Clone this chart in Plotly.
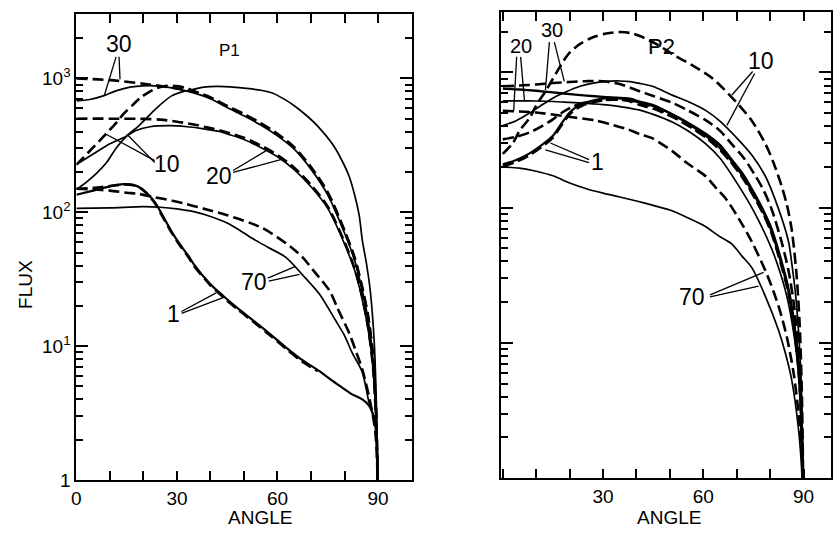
import plotly.graph_objects as go

# ---------------- data (angle in degrees, flux) ----------------
# Panel P1
p1_d30_x = [0, 10, 20, 30, 35, 40, 45, 50, 55, 60, 65, 70, 75, 80, 83, 85, 87, 88.5, 89.5, 90]
p1_d30_y = [1000, 970, 912, 841, 794, 716, 617, 537, 457, 380, 302, 214, 138, 72, 45, 29, 16.6, 8.3, 2.8, 0.5]

p1_s30_x = [0, 4, 8, 12, 16, 20, 25, 30, 35, 40, 45, 50, 55, 60, 65, 70, 75, 80, 83, 85, 87, 88.5, 89.5, 90]
p1_s30_y = [680, 695, 740, 810, 860, 880, 875, 835, 780, 705, 605, 525, 448, 372, 296, 210, 135, 70, 44, 28, 16, 8, 2.7, 0.5]

p1_d10_x = [0, 2, 5, 8.7, 12, 14, 17, 19, 22, 24, 27, 30, 33, 35, 40, 45, 50, 55, 60, 65, 70, 75, 80, 83, 85, 87, 88.5, 89.5, 90]
p1_d10_y = [227, 255, 305, 382, 470, 540, 640, 713, 800, 845, 880, 875, 845, 805, 722, 622, 542, 463, 386, 306, 218, 141, 73, 46, 29.5, 17, 8.5, 2.9, 0.5]

p1_s10_x = [0, 3, 6, 9, 12, 15, 19, 24, 28.4, 32, 35, 38, 42, 46, 50, 55, 58.6, 62, 65, 68.4, 72, 76.4, 79, 81.4, 83, 84.4, 85.3, 86.5, 87.6, 88.5, 89.1, 89.6, 90]
p1_s10_y = [148, 168, 195, 235, 305, 370, 452, 603, 740, 800, 830, 860, 872, 865, 845, 815, 775, 700, 625, 535, 440, 323, 250, 185, 135, 94, 62, 42, 27, 15, 8, 3, 0.5]

p1_d20_x = [0, 10, 20, 25, 30, 35, 40, 45, 50, 55, 60, 65, 70, 75, 80, 83, 85, 87, 88.5, 89.5, 90]
p1_d20_y = [500, 500, 498, 492, 475, 452, 425, 395, 360, 315, 268, 215, 160, 110, 60, 38, 25, 14, 7, 2.4, 0.5]

p1_s20_x = [0, 5, 10, 14, 18, 22, 28, 33, 38, 43, 45, 50, 55, 60, 65, 70, 75, 80, 83, 85, 87, 88.5, 89.5, 90]
p1_s20_y = [227, 272, 325, 360, 410, 435, 443, 435, 420, 400, 385, 350, 305, 260, 208, 155, 107, 58, 37, 24, 13.5, 6.8, 2.3, 0.5]

p1_s1_x = [0, 5, 10, 14, 17, 19.5, 21.5, 23.5, 26, 28.5, 31, 33.5, 35, 40, 44, 48, 52.7, 57, 62.5, 67, 72.5, 76, 79.3, 82, 85.3, 87.3, 88.5, 89.4, 89.8, 90]
p1_s1_y = [135, 145, 156, 162, 160, 150, 135, 118, 92, 71, 57, 47, 41, 29, 23.5, 19.3, 15.6, 12.8, 9.8, 8.0, 6.5, 5.6, 4.9, 4.4, 4.0, 3.6, 3.1, 2.3, 1.5, 0.5]

p1_d1_x = [0, 5, 10, 14, 17, 19.5, 21.5, 23.5, 26, 28.5, 31, 33.5, 35, 40, 44, 48, 52.7, 57, 62.5, 67, 72]
p1_d1_y = [150, 152, 157, 161, 159, 149, 134, 116, 90, 70, 56, 46, 40, 28.5, 23, 18.9, 15.3, 12.5, 9.6, 7.8, 6.5]

p1_s70_x = [0, 10, 20, 25, 30, 35, 40, 45, 50, 52.4, 57, 62.5, 67.5, 72.5, 77.3, 80, 82.3, 85.3, 87.3, 89.1, 89.7, 90]
p1_s70_y = [107, 108, 110, 109, 106, 101, 93, 83, 70, 64, 55, 46, 34, 24.5, 15.6, 12, 8.9, 6.4, 3.8, 2.7, 1.8, 0.5]

p1_d70_x = [0, 5, 10, 15, 18.7, 23, 28.6, 33, 38.2, 45, 52, 55.6, 60, 64, 67.5, 71, 75.5, 78, 81.4, 83.5, 85.3, 87.5, 89, 89.7, 90]
p1_d70_y = [150, 148, 145, 140, 137, 130, 122, 115, 106, 95, 83, 76, 65, 55, 46, 36, 26, 19, 12.5, 9, 6.7, 4, 2.5, 1.5, 0.5]

# Panel P2
p2_d10_x = [0, 3, 5, 8, 10, 13, 15, 18, 20, 23, 27, 31, 35, 38, 41, 46, 52, 57, 62.6, 66, 70.6, 74.5, 78.6, 81, 83.4, 85, 86.4, 87.8, 88.8, 89.5, 90]
p2_d10_y = [250, 300, 370, 460, 570, 740, 900, 1200, 1400, 1620, 1820, 1940, 1990, 1960, 1860, 1620, 1310, 1120, 910, 760, 575, 440, 295, 215, 145, 105, 70, 34, 14, 4, 0.5]

p2_s10_x = [0, 4, 7.4, 11, 15.1, 19, 23.1, 27, 31, 35, 38, 41, 44.8, 50.7, 54.9, 60.8, 64.7, 70.6, 74.5, 78.6, 82.5, 85.5, 86.5, 87.5, 88.5, 89.3, 90]
p2_s10_y = [405, 440, 490, 560, 648, 720, 790, 835, 860, 865, 855, 830, 790, 680, 617, 522, 442, 316, 245, 170, 98, 56, 38, 24, 12, 5, 0.5]

p2_d30_x = [0, 5, 10, 15, 20, 25, 30, 35, 41, 45, 50.7, 55, 60.8, 65, 68.5, 72, 75.7, 78, 80.4, 83.4, 85.5, 87, 88.3, 89.2, 90]
p2_d30_y = [790, 800, 815, 835, 850, 862, 860, 820, 725, 670, 596, 530, 442, 370, 295, 235, 170, 135, 98, 56, 34, 20, 10, 4, 0.5]

p2_s30_x = [0, 5, 10, 15, 20, 25, 30, 35, 41, 45, 50.7, 55, 60.8, 65, 68.5, 72, 75.7, 78, 80.4, 83.4, 85.5, 87, 88.3, 89.2, 90]
p2_s30_y = [760, 748, 732, 712, 692, 674, 660, 643, 600, 565, 490, 430, 350, 290, 226, 175, 122, 95, 70, 40, 25, 15, 8, 3.5, 0.5]

p2_s20_x = [0, 5, 10, 15, 20, 25, 31, 36, 41, 45, 50.7, 55, 60.8, 65, 70.6, 75, 80.4, 83, 85, 87, 88.3, 89.2, 90]
p2_s20_y = [617, 617, 615, 610, 600, 590, 575, 555, 527, 490, 430, 375, 295, 232, 145, 95, 50, 33, 22, 12, 6.5, 3, 0.5]

p2_d20_x = [0, 4, 8, 12, 15, 18, 21, 24, 28, 33, 37, 41, 45, 50.7, 55, 60.8, 65, 68.5, 72, 75.7, 78, 80.4, 83.4, 85.5, 87, 88.3, 89.2, 90]
p2_d20_y = [320, 335, 360, 405, 450, 510, 560, 595, 620, 630, 620, 575, 540, 470, 410, 335, 275, 215, 165, 115, 90, 66, 38, 24, 14, 7.5, 3.3, 0.5]

p2_s1_x = [0, 4, 8, 12, 15, 17, 18.7, 20, 21.7, 24, 27.6, 31, 35, 38, 41, 45, 50.7, 55, 60.8, 65, 68.5, 72, 75.7, 78, 80.4, 83.4, 85.5, 87, 88.3, 89.2, 90]
p2_s1_y = [209, 225, 252, 295, 340, 400, 460, 505, 550, 590, 625, 645, 650, 640, 610, 575, 490, 425, 340, 275, 220, 168, 118, 92, 67, 38, 24, 14, 7.5, 3.3, 0.5]
p2_d1_y = [v * 0.97 for v in p2_s1_y]

p2_d70_x = [0, 5, 10, 17.8, 22, 27.6, 32, 37.4, 41, 44.5, 50.7, 55, 60.8, 64, 66.8, 70.6, 74.5, 78.6, 81, 83, 85, 87, 88.5, 89.5, 90]
p2_d70_y = [520, 515, 505, 478, 462, 442, 415, 380, 350, 328, 262, 215, 170, 138, 116, 83, 56, 34, 24, 17, 11, 6, 3, 1.5, 0.5]

p2_s70_x = [0, 5, 10, 15, 20, 25, 30, 35, 40, 45, 50, 55, 60, 65, 68.5, 71.5, 74.5, 78.6, 82.5, 84.5, 86.4, 88.4, 89.3, 90]
p2_s70_y = [200, 196, 186, 172, 152, 138, 128, 120, 112, 104, 96, 85, 74, 61, 54, 44, 36, 22, 12.4, 8.5, 5.4, 2.4, 1.3, 0.5]

# tick positions / labels
x_major_p1 = [0, 30, 60, 90]
x_text_p1 = ["0", "30", "60", "90"]
x_major_p2 = [30, 60, 90]
x_text_p2 = ["30", "60", "90"]
x_minor = [0, 10, 20, 40, 50, 70, 80, 100]
y_major = [1, 10, 100, 1000]
y_text = ["1", "10<sup>1</sup>", "10<sup>2</sup>", "10<sup>3</sup>"]
y_minor = [m * d for d in (1, 10, 100, 1000) for m in range(2, 10) if m * d < 3100]

# ---------------- figure ----------------
W, H = 833, 540
FONT = "Liberation Sans, Arial, sans-serif"
SOLID = dict(color="black", width=1.7)
DASH = dict(color="black", width=2.6, dash="11px,5px")

fig = go.Figure()

def add(x, y, style, axis):
    fig.add_trace(go.Scatter(
        x=x, y=y, mode="lines", line=dict(**style, shape="spline", smoothing=0.8),
        xaxis="x" if axis == 1 else "x2", yaxis="y" if axis == 1 else "y2",
        showlegend=False, hoverinfo="skip"))

add(p1_d30_x, p1_d30_y, DASH, 1)
add(p1_s30_x, p1_s30_y, SOLID, 1)
add(p1_d10_x, p1_d10_y, DASH, 1)
add(p1_s10_x, p1_s10_y, SOLID, 1)
add(p1_d20_x, p1_d20_y, DASH, 1)
add(p1_s20_x, p1_s20_y, SOLID, 1)
add(p1_s1_x, p1_s1_y, dict(color="black", width=2.2), 1)
add(p1_d1_x, p1_d1_y, DASH, 1)
add(p1_s70_x, p1_s70_y, SOLID, 1)
add(p1_d70_x, p1_d70_y, DASH, 1)

add(p2_d10_x, p2_d10_y, DASH, 2)
add(p2_s10_x, p2_s10_y, SOLID, 2)
add(p2_d30_x, p2_d30_y, DASH, 2)
add(p2_s30_x, p2_s30_y, dict(color="black", width=2.4), 2)
add(p2_s20_x, p2_s20_y, SOLID, 2)
add(p2_d20_x, p2_d20_y, DASH, 2)
add(p2_s1_x, p2_s1_y, dict(color="black", width=2.2), 2)
add(p2_s1_x, p2_d1_y, DASH, 2)
add(p2_d70_x, p2_d70_y, DASH, 2)
add(p2_s70_x, p2_s70_y, SOLID, 2)

def px(x):
    return x / W

def py(y):
    return 1 - y / H

axis_common = dict(showline=True, linecolor="black", linewidth=2, mirror="allticks",
                   ticks="inside", tickcolor="black", tickwidth=1.5, showgrid=False,
                   zeroline=False, tickfont=dict(family=FONT, size=19, color="black"))
x_minor_cfg = dict(tickmode="array", tickvals=x_minor, ticks="inside", ticklen=9,
                   tickwidth=1.5, tickcolor="black", showgrid=False)
y_minor_cfg = dict(tickmode="array", tickvals=y_minor, ticks="inside", ticklen=7,
                   tickwidth=1.5, tickcolor="black", showgrid=False)

fig.update_layout(
    width=W, height=H, margin=dict(l=0, r=0, t=0, b=0),
    paper_bgcolor="white", plot_bgcolor="white",
    xaxis=dict(**axis_common, domain=[px(72), px(410)], range=[0, 100], anchor="y",
               tickmode="array", tickvals=x_major_p1, ticktext=x_text_p1, ticklen=9,
               minor=x_minor_cfg),
    yaxis=dict(**axis_common, domain=[py(490), py(14)], type="log", range=[0, 3.483], anchor="x",
               tickmode="array", tickvals=y_major, ticktext=y_text, ticklen=12,
               minor=y_minor_cfg),
    xaxis2=dict(**axis_common, domain=[px(500), 1.0], range=[-0.6, 98.2], anchor="y2",
                tickmode="array", tickvals=x_major_p2, ticktext=x_text_p2, ticklen=9,
                minor=x_minor_cfg),
    yaxis2=dict(**axis_common, domain=[py(488), py(12)], type="log", range=[0, 3.449], anchor="x2",
                tickmode="array", tickvals=y_major, ticklen=12, showticklabels=False,
                minor=y_minor_cfg),
)

# ---------------- text labels ----------------
labels = [
    ("30", 115, 45, 23), ("P1", 226, 52, 17), ("10", 163, 167, 23), ("20", 216, 180, 23),
    ("1", 170, 321, 23), ("70", 251, 288, 23),
    ("20", 520, 47, 20), ("30", 552, 31, 20), ("P2", 662, 47, 22), ("10", 762, 62, 23),
    ("1", 598, 165, 23), ("70", 693, 303, 23),
    ("FLUX", 20, 290, 19), ("ANGLE", 257, 528.5, 19), ("ANGLE", 670, 528.5, 19),
]
for text, x, y, size in labels:
    fig.add_annotation(x=px(x), y=py(y), xref="paper", yref="paper", text=text,
                       showarrow=False, xanchor="center", yanchor="middle",
                       textangle=-90 if text == "FLUX" else 0,
                       font=dict(family=FONT, size=size, color="black"))

leaders = [
    (112, 58, 100, 98), (115, 58, 116, 81),
    (151, 164, 102, 137), (151, 166, 123, 137),
    (230, 174, 263, 154), (230, 176, 278, 163),
    (178, 318, 213, 299), (178, 320, 222, 303),
    (265, 284, 293, 272), (266, 287, 297, 280),
    (516, 58, 513, 113), (520, 58, 524, 104),
    (549, 43, 545, 92), (554, 43, 564, 83),
    (754, 73, 733, 97), (756, 75, 728, 128),
    (589, 163, 550, 146), (589, 166, 545, 153),
    (711, 301, 765, 278), (711, 303, 760, 292),
]
for x0, y0, x1, y1 in leaders:
    fig.add_shape(type="line", xref="paper", yref="paper",
                  x0=px(x0), y0=py(y0), x1=px(x1), y1=py(y1),
                  line=dict(color="black", width=1.3))

fig.write_html("out.html", config={"displayModeBar": False},
               post_script="document.body.style.margin='0';document.body.style.overflow='hidden';")
